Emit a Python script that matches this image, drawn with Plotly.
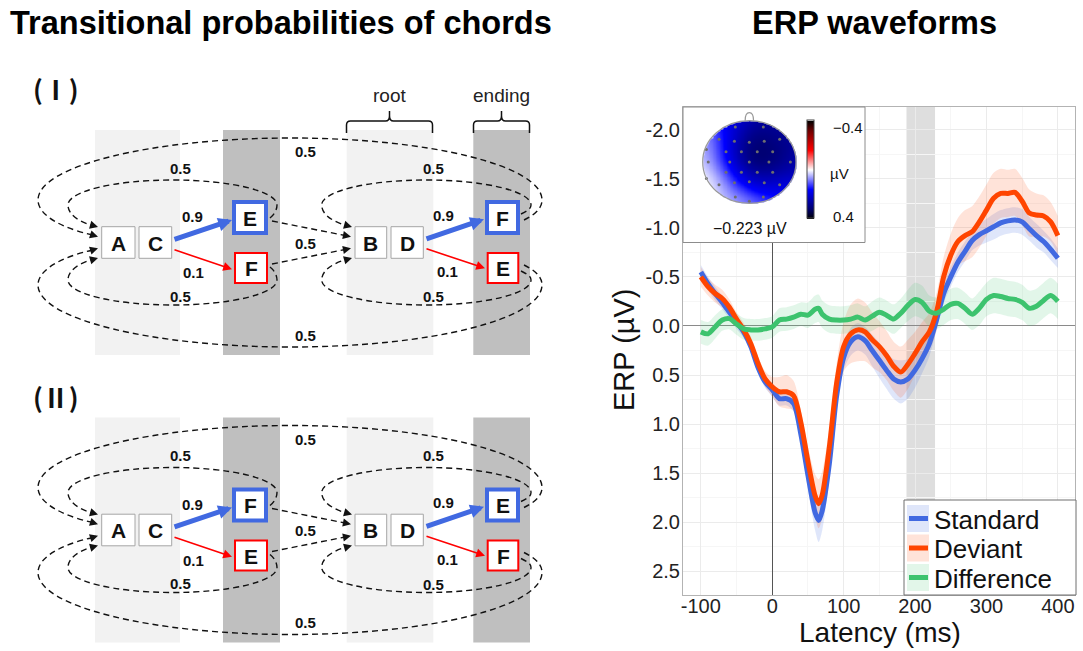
import numpy as np
import plotly.graph_objects as go

W, H = 1083, 651
FONT = "Liberation Sans, Arial, sans-serif"

# ---------------- ERP data ----------------
latency = [-100, -90, -80, -70, -60, -50, -40, -30, -20, -10, 0, 10, 20, 30, 40, 50, 60, 65,
           70, 80, 90, 100, 110, 120, 130, 140, 150, 160, 170, 180, 190, 200, 210, 220, 230,
           240, 250, 260, 270, 280, 290, 300, 310, 320, 330, 340, 350, 360, 370, 380, 390, 400]
standard = [-0.55, -0.43, -0.33, -0.24, -0.14, -0.04, 0.06, 0.21, 0.42, 0.57,
            0.65, 0.74, 0.74, 0.79, 1.10, 1.52, 1.90, 1.98, 1.88, 1.40,
            0.72, 0.32, 0.16, 0.11, 0.15, 0.25, 0.35, 0.45, 0.54, 0.57,
            0.54, 0.45, 0.33, 0.18, -0.06, -0.33, -0.50, -0.65, -0.76, -0.87,
            -0.93, -0.97, -1.01, -1.05, -1.07, -1.08, -1.06, -0.99, -0.92, -0.86,
            -0.78, -0.69]
deviant = [-0.50, -0.40, -0.33, -0.28, -0.19, -0.07, 0.04, 0.18, 0.38, 0.54,
           0.62, 0.67, 0.67, 0.71, 0.98, 1.38, 1.73, 1.81, 1.72, 1.23,
           0.59, 0.21, 0.08, 0.04, 0.06, 0.14, 0.21, 0.30, 0.41, 0.47,
           0.39, 0.28, 0.16, 0.06, -0.14, -0.50, -0.72, -0.86, -0.92, -0.96,
           -1.06, -1.18, -1.30, -1.35, -1.35, -1.36, -1.27, -1.15, -1.13, -1.12,
           -1.06, -0.92]
difference = [0.06, 0.08, 0.01, -0.06, -0.075, -0.02, 0.03, 0.04, 0.04, 0.03,
              0.01, -0.06, -0.07, -0.09, -0.12, -0.11, -0.17, -0.18, -0.12, -0.07,
              -0.06, -0.06, -0.07, -0.09, -0.06, -0.10, -0.14, -0.11, -0.07, -0.13,
              -0.21, -0.27, -0.24, -0.15, -0.13, -0.17, -0.22, -0.23, -0.18, -0.12,
              -0.18, -0.27, -0.31, -0.30, -0.28, -0.27, -0.24, -0.18, -0.20, -0.26,
              -0.31, -0.25]
standard_se = [0.07, 0.07, 0.07, 0.07, 0.07, 0.07, 0.06, 0.06, 0.06, 0.06,
               0.07, 0.07, 0.07, 0.08, 0.10, 0.14, 0.18, 0.22, 0.20, 0.15,
               0.12, 0.13, 0.14, 0.14, 0.14, 0.16, 0.18, 0.19, 0.20, 0.22,
               0.20, 0.18, 0.15, 0.13, 0.11, 0.10, 0.10, 0.10, 0.10, 0.10,
               0.11, 0.12, 0.13, 0.13, 0.13, 0.13, 0.13, 0.12, 0.12, 0.11,
               0.11, 0.10]
deviant_se = [0.10, 0.09, 0.09, 0.09, 0.08, 0.07, 0.07, 0.07, 0.07, 0.08,
              0.10, 0.15, 0.17, 0.15, 0.12, 0.15, 0.22, 0.25, 0.24, 0.20,
              0.20, 0.25, 0.30, 0.32, 0.30, 0.28, 0.26, 0.25, 0.25, 0.26,
              0.25, 0.22, 0.20, 0.19, 0.19, 0.20, 0.22, 0.24, 0.26, 0.26,
              0.26, 0.26, 0.26, 0.25, 0.24, 0.24, 0.24, 0.24, 0.22, 0.21,
              0.20, 0.20]
difference_se = [0.12, 0.12, 0.12, 0.11, 0.11, 0.11, 0.11, 0.11, 0.11, 0.11,
                 0.11, 0.12, 0.12, 0.12, 0.12, 0.13, 0.14, 0.14, 0.14, 0.14,
                 0.14, 0.14, 0.14, 0.14, 0.14, 0.15, 0.15, 0.15, 0.15, 0.15,
                 0.16, 0.17, 0.17, 0.16, 0.16, 0.16, 0.16, 0.16, 0.16, 0.16,
                 0.17, 0.17, 0.18, 0.18, 0.18, 0.18, 0.18, 0.18, 0.18, 0.18,
                 0.18, 0.18]

series_names = ["Standard", "Deviant", "Difference"]
series_colors = ["#4169E1", "#FF4500", "#3DC36E"]
band_colors = ["rgba(65,105,225,0.17)", "rgba(255,69,0,0.15)", "rgba(61,195,110,0.15)"]

x_range = [-125, 424]
y_range = [2.74, -2.23]
x_tick_vals = [-100, 0, 100, 200, 300, 400]
x_tick_text = ["-100", "0", "100", "200", "300", "400"]
x_minor_vals = [-50, 50, 150, 250, 350]
y_tick_vals = [-2.0, -1.5, -1.0, -0.5, 0.0, 0.5, 1.0, 1.5, 2.0, 2.5]
y_tick_text = ["-2.0", "-1.5", "-1.0", "-0.5", "0.0", "0.5", "1.0", "1.5", "2.0", "2.5"]
y_minor_vals = [-1.75, -1.25, -0.75, -0.25, 0.25, 0.75, 1.25, 1.75, 2.25]
window_ms = [188, 228]

# ---------------- topography (inset) ----------------
electrode_x = [-0.30, 0.30, -0.65, -0.32, 0.00, 0.32, 0.65, -0.50, -0.17, 0.17, 0.50,
               -0.88, -0.42, 0.00, 0.42, 0.88, -0.50, -0.17, 0.17, 0.50,
               -0.65, -0.32, 0.00, 0.32, 0.65, -0.30, 0.00, 0.30, -0.92, -0.92]
electrode_y = [0.85, 0.85, 0.55, 0.50, 0.48, 0.50, 0.55, 0.25, 0.25, 0.25, 0.25,
               0.00, 0.00, 0.00, 0.00, 0.00, -0.25, -0.25, -0.25, -0.25,
               -0.55, -0.50, -0.48, -0.50, -0.55, -0.85, -0.95, -0.85, 0.30, -0.40]
electrode_uv = [0.20, 0.26, 0.07, 0.24, 0.31, 0.32, 0.26, 0.13, 0.32, 0.35, 0.31,
                0.02, 0.18, 0.34, 0.33, 0.24, 0.08, 0.26, 0.31, 0.27,
                0.00, 0.10, 0.18, 0.22, 0.16, 0.03, 0.07, 0.11, 0.04, -0.02]
topo_label = "\u22120.223 \u00b5V"
cbar_tick_text = ["\u22120.4", "0.4"]
cbar_unit = "\u00b5V"

# ---------------- diagram text ----------------
titles = ["Transitional probabilities of chords", "ERP waveforms"]
panel_labels = ["(\u2160)", "(\u2161)"]
prefix_chords = ["A", "C", "B", "D"]
panel_endings = [[["E", "F"], ["F", "E"]], [["F", "E"], ["E", "F"]]]
prob_high, prob_low, prob_loop = "0.9", "0.1", "0.5"
brace_labels = ["root", "ending"]
axis_titles = ["Latency (ms)", "ERP (\u00b5V)"]

# =============================================================
fig = go.Figure()
shapes = []
annos = []


def fx(px):
    return px / W


def fy(py):
    return 1 - py / H


# ---------------- ERP traces ----------------
series = [(standard, standard_se), (deviant, deviant_se), (difference, difference_se)]
for (mean, se), bcol in zip(series, band_colors):
    lower = [m - s for m, s in zip(mean, se)]
    upper = [m + s for m, s in zip(mean, se)]
    fig.add_trace(go.Scatter(x=latency, y=lower, mode="lines",
                             line=dict(width=0, shape="spline", smoothing=0.8),
                             showlegend=False, hoverinfo="skip"))
    fig.add_trace(go.Scatter(x=latency, y=upper, mode="lines", fill="tonexty", fillcolor=bcol,
                             line=dict(width=0, shape="spline", smoothing=0.8),
                             showlegend=False, hoverinfo="skip"))
for (mean, se), name, col in zip(series, series_names, series_colors):
    fig.add_trace(go.Scatter(x=latency, y=mean, mode="lines", name=name,
                             line=dict(color=col, width=5, shape="spline", smoothing=0.8),
                             showlegend=False))

shapes.append(dict(type="rect", xref="x", yref="y", x0=window_ms[0], x1=window_ms[1],
                   y0=y_range[0], y1=y_range[1], fillcolor="#DEDEDE", line=dict(width=0),
                   layer="below"))

# ---------------- overlay (pixel) axes dummy trace ----------------
fig.add_trace(go.Scatter(x=[None], y=[None], xaxis="x2", yaxis="y2", showlegend=False,
                         hoverinfo="skip"))

P = dict(xref="x2", yref="y2")


def rect(x0, y0, x1, y1, fill, lc="rgba(0,0,0,0)", lw=0):
    shapes.append(dict(type="rect", x0=x0, x1=x1, y0=y0, y1=y1, fillcolor=fill,
                       line=dict(color=lc, width=lw), layer="below", **P))


def text(x, y, s, size, bold=False, color="#111", family=FONT, **kw):
    annos.append(dict(x=x, y=y, text=("<b>%s</b>" % s) if bold else s, showarrow=False,
                      font=dict(size=size, color=color, family=family),
                      xanchor=kw.pop("xanchor", "center"), yanchor=kw.pop("yanchor", "middle"),
                      **P, **kw))


def arrow(tail, tip, color, width, size, head=2):
    annos.append(dict(x=tip[0], y=tip[1], ax=tail[0], ay=tail[1], axref="x2", ayref="y2",
                      text="", showarrow=True, arrowhead=head, arrowsize=size,
                      arrowwidth=width, arrowcolor=color, standoff=0, startstandoff=0, **P))


# ---------------- inset box & legend box (above ERP) ----------------
rect(683, 107, 865, 242.5, "white", "#8C8C8C", 1)

# legend
rect(904, 500, 1076, 595, "white", "#6E6E6E", 1)
for i, (name, col, bcol) in enumerate(zip(series_names, series_colors, band_colors)):
    cy = 518.5 + i * 29.5
    rect(907, cy - 13.5, 929, cy + 13.5, bcol)
    shapes.append(dict(type="line", x0=909, x1=928, y0=cy, y1=cy,
                       line=dict(color=col, width=5), layer="below", **P))
    text(932, cy + 1, name, 26, color="#111", xanchor="left")

# ---------------- diagram ----------------
YC = 242.5
DASH = "6px,4px"

LEFT_INNER = ((270, 218), [((275, 214), (277, 209), (277, 205)),
                           ((277, 191.2), (230.2, 180), (172.5, 180)),
                           ((114.8, 180), (68, 191.2), (68, 205)),
                           ((68, 215), (80, 222), (91, 225))], (98, 227))
RIGHT_INNER = ((521, 214), [((527, 211), (531, 209), (531, 205)),
                            ((531, 191.2), (484.1, 180), (426.4, 180)),
                            ((368.7, 180), (321.7, 191.2), (321.7, 205)),
                            ((321.7, 215), (334, 222), (345, 225))], (352, 227))
OUTER = ((524, 220), [((532, 216), (542, 210), (542, 200)),
                      ((542, 165.8), (429.6, 138), (291, 138)),
                      ((152.4, 138), (38, 165.8), (38, 200)),
                      ((38, 218), (70, 230), (91, 234.5))], (98, 236.7))
MID = ((272, 221), (344, 235.3), (351, 236.7))


def add_panel(k, dy):
    def ty(y, mirror=False):
        return (2 * YC - y if mirror else y) + dy

    # bands
    rect(95, ty(130), 180, ty(355), "#F2F2F2")
    rect(223, ty(130), 280, ty(355), "#BFBFBF")
    rect(346.7, ty(130), 433.3, ty(355), "#F2F2F2")
    rect(473.3, ty(130), 530, ty(355), "#BFBFBF")

    # dashed loops
    for start, segs, tip in (LEFT_INNER, RIGHT_INNER, OUTER):
        for mirror in (False, True):
            path = "M %g,%g" % (start[0], ty(start[1], mirror))
            for seg in segs:
                path += " C " + " ".join("%g,%g" % (x, ty(y, mirror)) for x, y in seg)
            shapes.append(dict(type="path", path=path, line=dict(color="#111", width=1.4, dash=DASH),
                               layer="below", **P))
            last = segs[-1][2]
            arrow((last[0], ty(last[1], mirror)), (tip[0], ty(tip[1], mirror)), "#111", 1.3, 1.25)
    for mirror in (False, True):
        a, b, tip = MID
        shapes.append(dict(type="line", x0=a[0], y0=ty(a[1], mirror), x1=b[0], y1=ty(b[1], mirror),
                           line=dict(color="#111", width=1.4, dash=DASH), layer="below", **P))
        arrow((b[0], ty(b[1], mirror)), (tip[0], ty(tip[1], mirror)), "#111", 1.3, 1.25)

    # chord boxes
    for (x0, x1), lab in zip([(101.7, 135), (139, 171.7), (355, 386.7), (391, 423.3)], prefix_chords):
        rect(x0, ty(226.7), x1, ty(258.3), "white", "#A6A6A6", 1)
        text((x0 + x1) / 2, ty(243), lab, 21, bold=True)
    (lt, lb), (rtop, rbot) = panel_endings[k]
    for (x0, x1), lab in zip([(234, 266), (487, 518)], [lt, rtop]):
        rect(x0, ty(202), x1, ty(233), "white", "#4169E1", 4)
        text((x0 + x1) / 2, ty(218), lab, 21, bold=True)
    for (x0, x1), lab in zip([(235, 267), (487.7, 518.3)], [lb, rbot]):
        rect(x0, ty(253), x1, ty(283), "white", "#FF0000", 2)
        text((x0 + x1) / 2, ty(268.5), lab, 21, bold=True)

    # transition arrows
    arrow((173, ty(240)), (232, ty(220)), "#4169E1", 5, 0.55)
    arrow((173, ty(249.3)), (232, ty(269.3)), "#FF0000", 1.6, 1.1)
    arrow((425, ty(239.3)), (484, ty(219.3)), "#4169E1", 5, 0.55)
    arrow((425, ty(248.3)), (485, ty(268.3)), "#FF0000", 1.6, 1.1)

    # probability labels
    text(192, ty(216.7), prob_high, 15, bold=True)
    text(193, ty(272.7), prob_low, 15, bold=True)
    text(443, ty(215), prob_high, 15, bold=True)
    text(447, ty(271.7), prob_low, 15, bold=True)
    for (x, y) in [(180, 168), (433, 168), (305, 151.7), (305, 243), (180, 296), (433, 296.7), (305, 335)]:
        text(x, ty(y), prob_loop, 15, bold=True)


add_panel(0, 0)
add_panel(1, 287.5)

text(56, 88, panel_labels[0], 26, bold=True, family="Noto Sans CJK JP")
text(56, 396, panel_labels[1], 26, bold=True, family="Noto Sans CJK JP")

# braces
for (xa, xb), lab in zip([(346.5, 432.5), (473.5, 529.5)], brace_labels):
    xm = (xa + xb) / 2
    path = ("M %g,133 L %g,125 Q %g,121 %g,121 L %g,121 Q %g,121 %g,116 L %g,111 "
            "M %g,116 Q %g,121 %g,121 L %g,121 Q %g,121 %g,125 L %g,133") % (
        xa, xa, xa, xa + 4, xm - 4, xm, xm, xm, xm, xm, xm + 4, xb - 4, xb, xb, xb)
    shapes.append(dict(type="path", path=path, line=dict(color="#111", width=1.5), layer="below", **P))
    text(xm, 95, lab, 19, color="#222")

# titles
text(281, 23, titles[0], 32.5, bold=True, color="#000")
text(874, 23, titles[1], 32.5, bold=True, color="#000")

# axis titles
text(880, 615, axis_titles[0], 28, color="#111", yanchor="top")
text(624, 350, axis_titles[1], 29, color="#111", textangle=-90)

# ---------------- topography heatmap ----------------
gx = np.linspace(-1, 1, 121)
XX, YY = np.meshgrid(gx, gx)
ex, ey, ev = np.array(electrode_x), np.array(electrode_y), np.array(electrode_uv)
d2 = (XX[..., None] - ex) ** 2 + (YY[..., None] - ey) ** 2
wgt = np.exp(-d2 / (2 * 0.28 ** 2))
Z = (wgt * ev).sum(-1) / wgt.sum(-1)
Z[XX ** 2 + YY ** 2 > 1.0] = np.nan
Zplot = -Z  # colour bar runs from -0.4 (top) to 0.4 (bottom)

fig.add_trace(go.Heatmap(
    x=gx, y=gx, z=Zplot, zmin=-0.4, zmax=0.4, zsmooth="best", xaxis="x3", yaxis="y3",
    colorscale=[[0, "#000000"], [0.1, "#00006E"], [0.3, "#0000FF"], [0.5, "#FFFFFF"],
                [0.7, "#FF0000"], [0.9, "#6E0000"], [1, "#000000"]],
    hoverinfo="skip",
    colorbar=dict(x=fx(806.7), xanchor="left", xpad=0, y=fy(169.5), yanchor="middle", ypad=0,
                  len=98, lenmode="pixels", thickness=7, thicknessmode="pixels",
                  showticklabels=False, ticks="", outlinewidth=1, outlinecolor="#444"),
))
fig.add_trace(go.Scatter(x=electrode_x, y=electrode_y, mode="markers", xaxis="x3", yaxis="y3",
                         marker=dict(size=3, color="#6E6E6E"), showlegend=False, hoverinfo="skip"))
shapes.append(dict(type="circle", xref="x3", yref="y3", x0=-1, x1=1, y0=-1, y1=1,
                   line=dict(color="#9A9A9A", width=1.2), layer="above"))
shapes.append(dict(type="path", xref="x3", yref="y3",
                   path="M -0.09,1.0 C -0.09,1.26 0.09,1.26 0.09,1.0",
                   line=dict(color="#9A9A9A", width=1.2), layer="above"))
text(750, 228, topo_label, 16, color="#111")
text(831, 127, cbar_tick_text[0], 15, color="#111", xanchor="left")
text(831, 216, cbar_tick_text[1], 15, color="#111", xanchor="left")
text(828, 173, cbar_unit, 15, color="#111", xanchor="left")

# ---------------- layout ----------------
tickfont = dict(size=20, color="#222", family=FONT)
fig.update_layout(
    width=W, height=H, template="none",
    margin=dict(l=0, r=0, t=0, b=0, pad=0),
    paper_bgcolor="white", plot_bgcolor="rgba(0,0,0,0)",
    font=dict(family=FONT, color="#111"),
    showlegend=False,
    xaxis=dict(domain=[fx(683), fx(1075)], range=x_range, tickvals=x_tick_vals,
               ticktext=x_tick_text, tickfont=tickfont, ticks="", ticklen=0,
               ticklabelstandoff=-7, showgrid=True,
               gridcolor="#EBEBEB", gridwidth=1,
               minor=dict(tickvals=x_minor_vals, showgrid=True, gridcolor="#F6F6F6", ticks=""),
               zeroline=True, zerolinecolor="#555", zerolinewidth=1,
               showline=True, mirror=True, linecolor="#B3B3B3", linewidth=1, anchor="y"),
    yaxis=dict(domain=[fy(595), fy(107)], range=y_range, tickvals=y_tick_vals,
               ticktext=y_tick_text, tickfont=tickfont, ticks="", ticklen=0,
               ticklabelstandoff=-2, showgrid=True,
               gridcolor="#EBEBEB", gridwidth=1,
               minor=dict(tickvals=y_minor_vals, showgrid=True, gridcolor="#F6F6F6", ticks=""),
               zeroline=True, zerolinecolor="#8A8A8A", zerolinewidth=1,
               showline=True, mirror=True, linecolor="#B3B3B3", linewidth=1, anchor="x"),
    xaxis2=dict(domain=[0, 1], range=[0, W], visible=False, anchor="y2", fixedrange=True),
    yaxis2=dict(domain=[0, 1], range=[H, 0], visible=False, anchor="x2", fixedrange=True),
    xaxis3=dict(domain=[fx(701), fx(798)], range=[-1.036, 1.043], visible=False, anchor="y3",
                fixedrange=True),
    yaxis3=dict(domain=[fy(205), fy(111)], range=[-1.041, 1.235], visible=False, anchor="x3",
                fixedrange=True),
    shapes=shapes,
    annotations=annos,
)

fig.write_html("out.html", config={"displayModeBar": False},
               post_script="document.body.style.margin='0px';")
